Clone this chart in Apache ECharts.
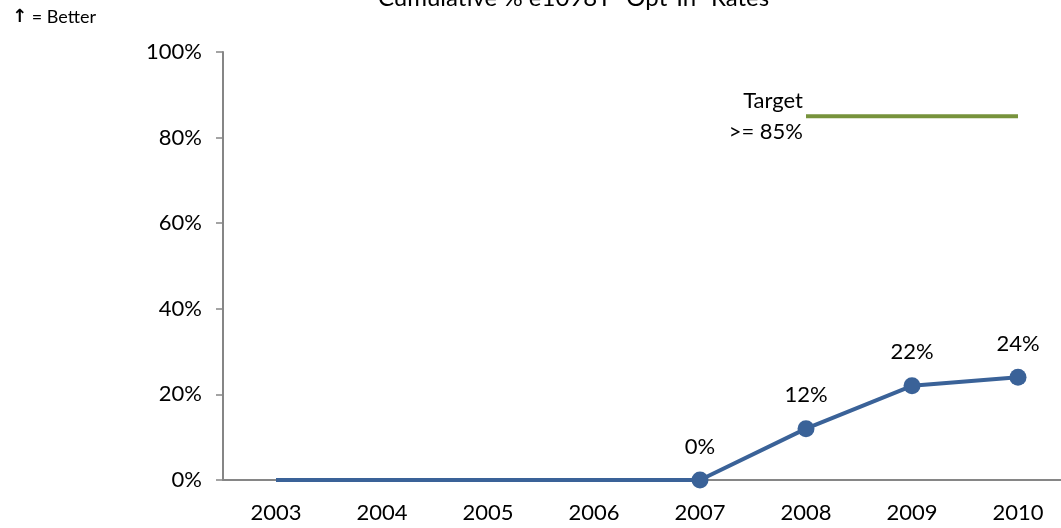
<!DOCTYPE html>
<html>
<head>
<meta charset="utf-8">
<script src="https://cdn.jsdelivr.net/npm/echarts@6/dist/echarts.min.js"></script>
<style>
  html, body { margin: 0; padding: 0; background: #fff; overflow: hidden; }
  /* wider than the window: the last category band runs past the right edge */
  #chart { width: 1080px; height: 528px; }
</style>
</head>
<body>
<div id="chart"></div>
<script>
const years = ['2003', '2004', '2005', '2006', '2007', '2008', '2009', '2010'];
// years before 2007 are drawn as a flat baseline without markers
const rates = [0, 0, 0, 0, 0, 12, 22, 24];
const firstReported = 4;
const target = [null, null, null, null, null, 85, 85, 85];
const yTicks = [0, 20, 40, 60, 80, 100];

const font = 'Lato, "Open Sans", sans-serif';
const blue = '#3A6298';

const rateData = rates.map((v, i) => i < firstReported
  ? { value: v, symbolSize: 0, label: { show: false } }
  : v);

const chart = echarts.init(document.getElementById('chart'));
chart.setOption({
  animation: false,
  title: {
    text: 'Cumulative % e1098T "Opt-In" Rates',
    left: 373,
    top: -19,
    textStyle: { fontFamily: font, fontSize: 24, fontWeight: 'normal', color: '#000' }
  },
  graphic: [{
    type: 'text',
    left: 12,
    top: 8,
    style: {
      text: '{a|↑} = Better',
      rich: { a: { fontFamily: 'DejaVu Sans', fontWeight: 'bold', fontSize: 18, fill: '#000' } },
      font: '18px ' + font,
      fill: '#000'
    }
  }],
  grid: { left: 223, right: 9, top: 52, bottom: 48 },
  xAxis: {
    type: 'category',
    data: years,
    axisLine: { lineStyle: { color: '#868686', width: 2 } },
    axisTick: { show: false },
    axisLabel: { fontFamily: font, fontSize: 22, color: '#000', margin: 22 }
  },
  yAxis: {
    type: 'value',
    min: yTicks[0],
    max: yTicks[yTicks.length - 1],
    interval: 20,
    splitLine: { show: false },
    axisLine: { show: true, lineStyle: { color: '#868686', width: 2 } },
    axisTick: { show: true, length: 7, lineStyle: { color: '#868686', width: 1.5 } },
    axisLabel: { fontFamily: font, fontSize: 22, color: '#000', margin: 21, formatter: '{value}%' }
  },
  series: [
    {
      name: 'Rate',
      type: 'line',
      data: rateData,
      symbol: 'circle',
      symbolSize: 17,
      lineStyle: { color: blue, width: 4 },
      itemStyle: { color: blue },
      label: {
        show: true,
        position: 'top',
        distance: 14,
        fontFamily: font,
        fontSize: 22,
        color: '#000',
        formatter: '{c}%'
      },
      z: 3
    },
    {
      name: 'Target',
      type: 'line',
      data: target,
      showSymbol: false,
      symbolSize: 0,
      lineStyle: { color: '#77933C', width: 4 },
      label: { show: false },
      markPoint: {
        symbol: 'circle',
        symbolSize: 0,
        data: [{ coord: [5, 85] }],
        label: {
          show: true,
          position: 'left',
          distance: 3,
          align: 'right',
          formatter: 'Target\n>= 85%',
          lineHeight: 31,
          fontFamily: font,
          fontSize: 22,
          color: '#000'
        }
      }
    }
  ]
});
</script>
</body>
</html>
